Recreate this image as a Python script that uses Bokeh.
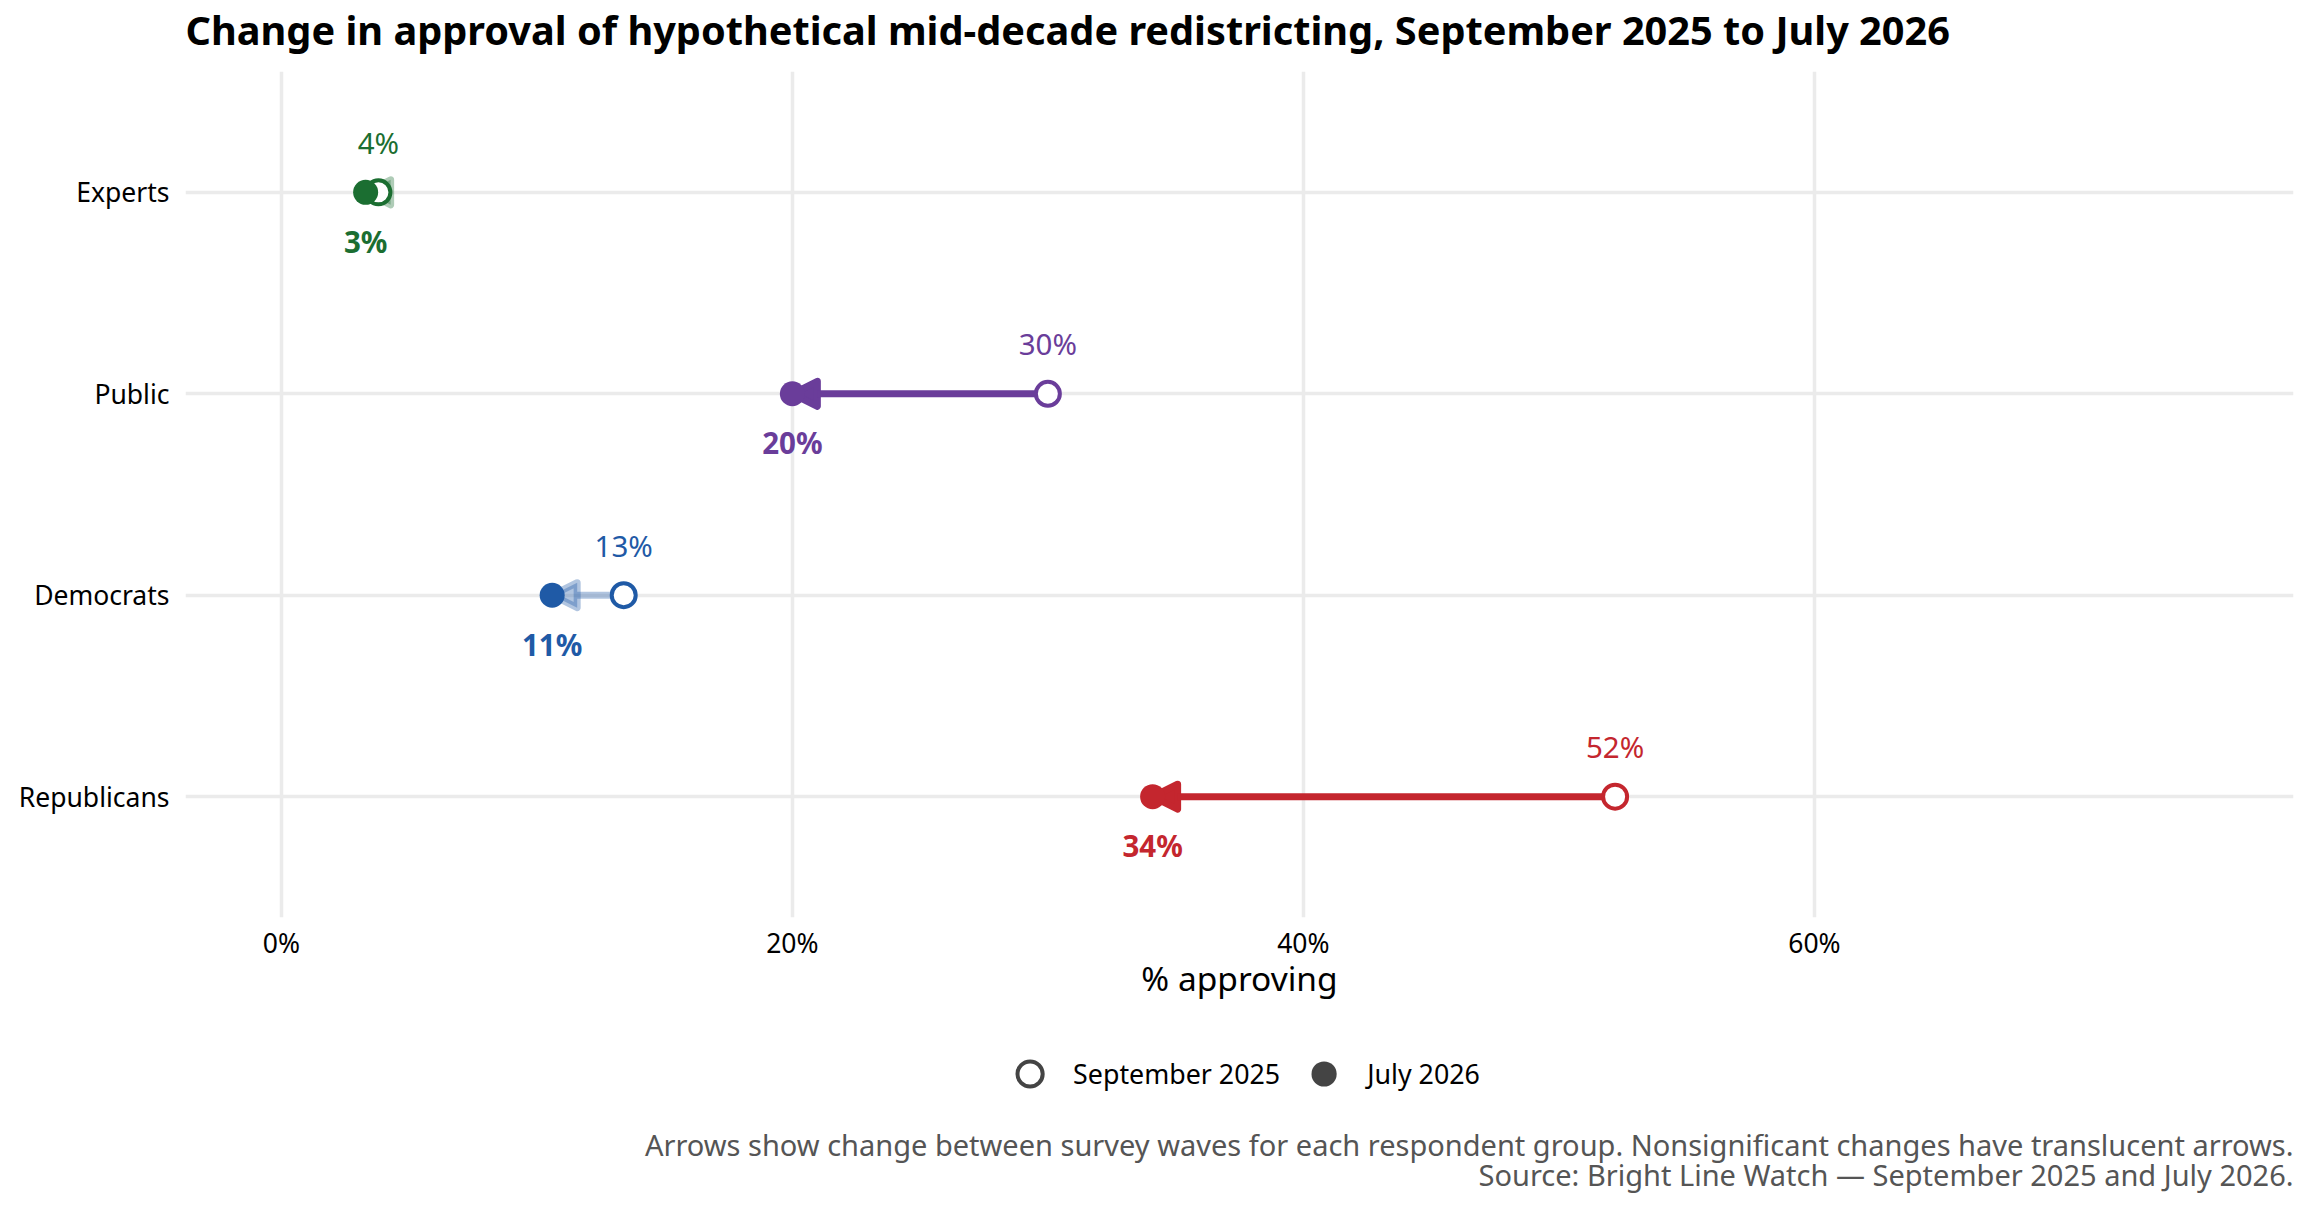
from bokeh.plotting import figure
from bokeh.layouts import column
from bokeh.models import (Range1d, FixedTicker, Arrow, NormalHead, Legend,
                          LegendItem, ColumnDataSource, Label)
from bokeh.core.properties import value
from bokeh.embed import file_html
from bokeh.resources import INLINE

# ---------------- data ----------------
groups = ["Experts", "Public", "Democrats", "Republicans"]
sept_2025 = [3.8, 30.0, 13.4, 52.2]
july_2026 = [3.3, 20.0, 10.6, 34.1]
significant = [False, True, False, True]
colors = ["#1b6e31", "#6a3d9a", "#1f5aa6", "#c4262e"]
x_ticks = [0, 20, 40, 60]
x_tick_labels = ["0%", "20%", "40%", "60%"]
legend_labels = ["September 2025", "July 2026"]
title_text = ("Change in approval of hypothetical mid-decade redistricting, "
              "September 2025 to July 2026")
x_title = "% approving"
caption_lines = [
    "Arrows show change between survey waves for each respondent group. "
    "Nonsignificant changes have translucent arrows.",
    "Source: Bright Line Watch \u2014 September 2025 and July 2026.",
]

FONT = "Noto Sans"
W = 2294
n = len(groups)
ypos = [n - i for i in range(n)]

src = ColumnDataSource(dict(
    y=ypos, sept=sept_2025, july=july_2026, color=colors,
    sept_lab=[f"{v:.0f}%" for v in sept_2025],
    july_lab=[f"{v:.0f}%" for v in july_2026],
))


def strip(height):
    f = figure(width=W, height=height, output_backend="svg",
               toolbar_location=None, x_range=Range1d(0, 1),
               y_range=Range1d(height, 0), x_axis_location=None,
               y_axis_location=None, min_border_left=185, min_border_right=1,
               min_border_top=0, min_border_bottom=0)
    f.outline_line_color = None
    f.background_fill_color = "white"
    f.border_fill_color = "white"
    f.grid.visible = False
    return f


# ---------------- title strip ----------------
p0 = strip(71)
p0.add_layout(Label(x=0, y=29, text=title_text, text_align="left",
                    text_baseline="alphabetic", text_font=FONT,
                    text_font_size="39.7px", text_font_style="bold",
                    text_color="black"))

# ---------------- main chart ----------------
p = figure(frame_width=2108, frame_height=846, output_backend="svg",
           toolbar_location=None,
           x_range=Range1d(-3.75, 78.75), y_range=Range1d(0.4, n + 0.6),
           min_border_left=185, min_border_right=1, min_border_top=0,
           min_border_bottom=100)
p.outline_line_color = None
p.background_fill_color = "white"
p.border_fill_color = "white"

xa = p.xaxis[0]
xa.ticker = FixedTicker(ticks=x_ticks)
xa.major_label_overrides = {t: l for t, l in zip(x_ticks, x_tick_labels)}
xa.axis_line_color = None
xa.major_tick_line_color = None
xa.minor_tick_line_color = None
xa.major_tick_out = 0
xa.major_tick_in = 0
xa.major_label_text_font = FONT
xa.major_label_text_font_size = "26.5px"
xa.major_label_text_color = "black"
xa.major_label_standoff = 7
xa.axis_label = x_title
xa.axis_label_text_font = FONT
xa.axis_label_text_font_size = "33.5px"
xa.axis_label_text_font_style = "normal"
xa.axis_label_text_color = "black"
xa.axis_label_standoff = -9

ya = p.yaxis[0]
ya.ticker = FixedTicker(ticks=ypos)
ya.major_label_overrides = {y: g for y, g in zip(ypos, groups)}
ya.axis_line_color = None
ya.major_tick_line_color = None
ya.minor_tick_line_color = None
ya.major_tick_out = 0
ya.major_tick_in = 0
ya.major_label_text_font = FONT
ya.major_label_text_font_size = "26.5px"
ya.major_label_text_color = "black"
ya.major_label_standoff = 16

p.xgrid.ticker = FixedTicker(ticks=x_ticks)
p.ygrid.ticker = FixedTicker(ticks=ypos)
for g in (p.xgrid[0], p.ygrid[0]):
    g.grid_line_color = "#EBEBEB"
    g.grid_line_width = 3.5
    g.minor_grid_line_color = None

for i in range(n):
    a = 1.0 if significant[i] else 0.35
    head = NormalHead(size=25, fill_color=colors[i], line_color=colors[i],
                      fill_alpha=a, line_alpha=a, line_width=7,
                      line_join="round")
    p.add_layout(Arrow(end=head, x_start=sept_2025[i], y_start=ypos[i],
                       x_end=july_2026[i], y_end=ypos[i],
                       line_color=colors[i], line_width=7, line_alpha=a,
                       level="underlay"))

p.scatter("sept", "y", source=src, marker="circle", size=24, line_width=4,
          line_color="color", fill_color="white")
p.scatter("july", "y", source=src, marker="circle", size=25, line_width=0,
          line_color="color", fill_color="color")

p.text("sept", "y", text="sept_lab", source=src, text_color="color",
       text_font=value(FONT), text_font_size="29.5px", text_align="center",
       text_baseline="alphabetic", y_offset=-50)
p.text("july", "y", text="july_lab", source=src, text_color="color",
       text_font=value(FONT), text_font_size="29.5px",
       text_font_style="bold", text_align="center",
       text_baseline="alphabetic", y_offset=49)

# ---------------- legend + caption strip ----------------
p2 = strip(185)
# neutral grey legend keys (their data lie outside this strip's ranges)
k_sep = p2.scatter("sept", "y", source=src, marker="circle", line_width=4,
                   line_color="#444444", fill_color="white")
k_jul = p2.scatter("july", "y", source=src, marker="circle", line_width=0,
                   line_color="#444444", fill_color="#444444")
legend = Legend(items=[LegendItem(label=legend_labels[0], renderers=[k_sep]),
                       LegendItem(label=legend_labels[1], renderers=[k_jul])],
                orientation="horizontal", location="top_center",
                glyph_width=63, glyph_height=63, label_standoff=12,
                spacing=12, label_text_font=FONT,
                label_text_font_size="26.8px", label_text_color="black",
                border_line_color=None, background_fill_alpha=0,
                padding=0, margin=25)
p2.add_layout(legend, "center")

for k, line in enumerate(caption_lines):
    p2.add_layout(Label(x=1, y=126.5 + 30 * k, text=line,
                        text_align="right", text_baseline="alphabetic",
                        text_font=FONT, text_font_size="29px",
                        text_color="#555555"))

layout = column(p0, p, p2, spacing=0)
open("out.html", "w").write(file_html(layout, INLINE))
